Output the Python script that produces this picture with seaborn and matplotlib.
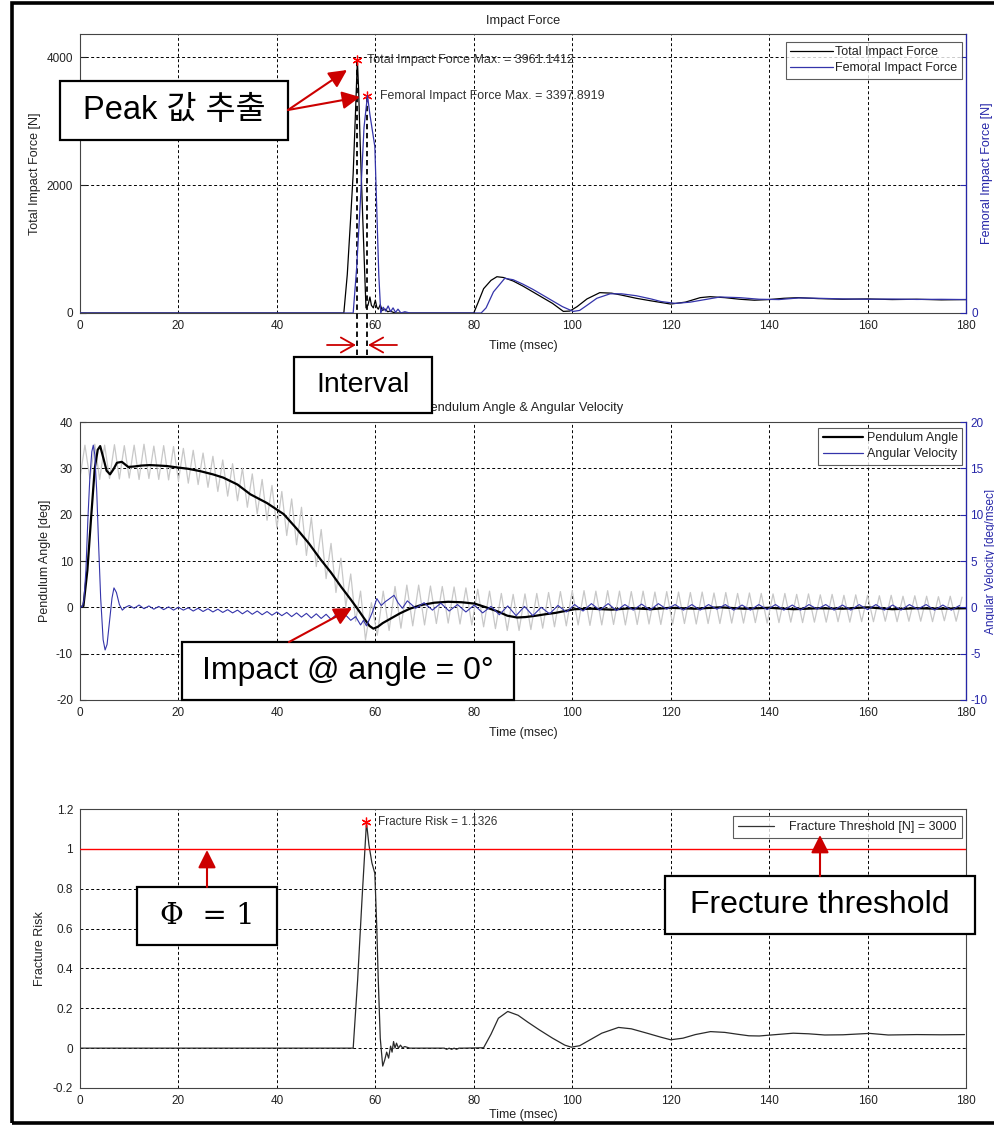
import numpy as np
import matplotlib
matplotlib.use('Agg')
import matplotlib.pyplot as plt
import seaborn as sns
from matplotlib.patches import Rectangle, FancyArrowPatch
from matplotlib.lines import Line2D

# ---------------- data ----------------
time_ticks = [0, 20, 40, 60, 80, 100, 120, 140, 160, 180]

# Top panel: impact forces [N]
total_t = [0, 53.6, 54.3, 55.0, 55.5, 56.0, 56.35, 56.6, 56.9, 57.3, 57.6, 57.9, 58.1, 58.5,
           58.9, 59.2, 59.6, 60.0, 60.3, 60.6, 61.0, 61.4, 62.0, 62.5, 63.0, 64, 65,
           80.0, 80.8, 82, 83.5, 84.7, 86, 88, 90, 92, 94, 96, 98.2, 99.5, 101, 103, 105.6,
           108, 110, 113, 116, 120, 123, 126, 128, 131, 134, 137, 140, 143, 146, 150, 155,
           160, 165, 170, 175, 180]
total_f = [0, 0, 600, 1500, 2180, 3200, 3961.1412, 3500, 2700, 1800, 1140, 500, 80, 120,
           250, 120, 80, 200, 90, 60, 130, 40, 60, 20, 30, 0, 0,
           0, 150, 380, 510, 567, 555, 500, 420, 330, 240, 150, 25, 30, 100, 220, 318,
           310, 280, 230, 190, 140, 170, 240, 255, 240, 215, 200, 210, 230, 240, 225, 215,
           220, 210, 215, 205, 210]

fem_t = [0, 55.5, 56.2, 57.0, 57.7, 58.4, 58.9, 59.4, 59.9, 60.3, 60.7, 61.1, 61.6, 62.1,
         62.6, 63.1, 63.6, 64.1, 64.6, 65.2, 66, 67, 80.5, 81.5, 82.5, 84, 86.3, 88, 90, 92,
         94, 96, 98, 100.2, 101.5, 103, 105, 107.7, 110, 113, 116, 118, 121, 124, 127, 130,
         134, 138, 142, 146, 150, 155, 160, 165, 170, 175, 180]
fem_f = [0, 0, 700, 1800, 2900, 3397.8919, 3100, 2850, 2600, 1600, 600, 0, 90, 30,
         110, 20, 80, 10, 60, 0, 20, 0, 0, 0, 80, 330, 542, 520, 450, 370,
         280, 190, 100, 25, 40, 120, 230, 300, 300, 270, 220, 180, 150, 170, 210, 250,
         240, 215, 210, 235, 230, 220, 215, 218, 212, 214, 210]

peak_t = [56.35, 58.4]
peak_f = [3961.1412, 3397.8919]

# Middle panel: pendulum angle [deg]
ang_t = [0, 0.7, 1.5, 2.3, 3.0, 3.6, 4.1, 4.8, 5.4, 6.1, 6.8, 7.5, 8.5, 9.8, 11, 12.5, 14.2,
         16, 17.6, 19.7, 22, 24.4, 27, 29.1, 32, 34.6, 38, 41.4, 44, 46.5, 48.9, 51, 53, 55,
         56.5, 57.8, 58.8, 59.6, 60.5, 61.5, 63, 65, 67, 69.3, 72, 74.8, 77.5, 80.2, 82.5,
         84.9, 86.8, 88.8, 90.5, 92.7, 94.5, 96.6, 98.5, 100.5, 104, 108, 112, 116, 120,
         125, 130, 135, 140, 145, 150, 155, 160, 165, 170, 175, 180]
ang_v = [0, 0.3, 8, 20, 30, 34.0, 34.8, 32, 29.5, 28.7, 29.8, 31.2, 31.4, 30.3, 30.4, 30.6,
         30.7, 30.6, 30.5, 30.2, 29.9, 29.4, 28.7, 28.0, 26.5, 24.4, 22.5, 20.1, 17, 13.8,
         10.3, 7.5, 4.5, 1.7, -0.5, -2.5, -4.0, -4.6, -4.2, -3.4, -2.5, -1.3, -0.3, 0.5,
         1.0, 1.2, 1.1, 0.8, 0.0, -0.9, -1.8, -2.2, -2.1, -1.8, -1.5, -1.2, -0.8, -0.4,
         -0.3, -0.5, -0.2, -0.4, -0.1, -0.3, 0.0, -0.3, -0.1, -0.4, -0.2, -0.3, 0.0, -0.4,
         -0.2, -0.3, -0.2]

# raw (unfiltered) angle signal, sampled turning points
raw_pre_v = [28.0, 35.0, 27.8, 35.2, 27.6, 35.0, 27.8, 35.1, 27.7, 34.9, 27.9, 35.0, 27.6,
             35.2, 27.8, 34.8, 27.6, 34.9, 27.5, 34.7, 27.3, 34.3, 26.8, 33.9, 26.5, 33.3,
             25.9, 32.6, 25.0, 31.8, 24.0, 31.0, 23.0, 30.0, 21.6, 28.8, 20.2, 27.6, 18.8,
             26.3, 17.2, 25.0, 15.5, 23.4, 13.5, 21.6, 11.2, 19.4, 8.8, 16.8, 6.2, 13.8,
             3.2, 10.6, 0.2, 7.2, -3.0, 3.5]
raw_post_v = [-7.0, 1.0, -6.0, 3.5, -5.0, 4.5, -4.5, 4.8, -4.0, 4.8, -3.8, 4.6, -3.5, 4.5,
              -3.4, 4.4, -3.6, 4.2, -3.8, 3.9, -4.2, 3.5, -4.6, 3.0, -5.0, 2.8, -5.0, 2.9,
              -4.8, 3.0, -4.5, 3.2, -4.2, 3.4, -4.0, 3.6, -3.8, 3.6, -3.9, 3.5, -3.8, 3.6,
              -3.7, 3.5, -3.8, 3.4, -3.7, 3.5, -3.6, 3.3, -3.7, 3.4, -3.6, 3.3, -3.5, 3.2,
              -3.6, 3.3, -3.5, 3.1, -3.5, 3.2, -3.4, 3.0, -3.4, 3.1, -3.3, 3.0, -3.4, 2.9,
              -3.3, 3.0, -3.2, 2.8, -3.3, 2.9, -3.2, 2.7, -3.2, 2.8, -3.1, 2.6, -3.2, 2.7,
              -3.1, 2.6, -3.1, 2.5, -3.0, 2.6, -3.1, 2.4, -3.0, 2.5, -3.0, 2.4, -3.1, 2.3,
              -2.9, 2.4, -3.0, 2.2]

# angular velocity [deg/msec]
vel_a_t = [0, 0.5, 0.8, 1.2, 1.6, 2.0, 2.4, 2.7, 3.0, 3.4, 3.8, 4.2, 4.7, 5.1, 5.5, 6.0,
           6.5, 6.9, 7.4, 8.0, 8.6, 9.2]
vel_a_v = [0, 0.1, 0.8, 4.0, 9.5, 14.0, 16.8, 17.5, 16.5, 12.5, 6.5, 1.0, -3.5, -4.6, -4.0,
           -1.5, 1.0, 2.1, 1.6, 0.3, -0.3, 0.0]
vel_b_v = [0.2, -0.1, 0.25, -0.15, 0.15, -0.2, 0.1, -0.25, 0.05, -0.3, 0.0, -0.3, -0.05,
           -0.4, -0.1, -0.45, -0.15, -0.5, -0.2, -0.55, -0.25, -0.6, -0.3, -0.7, -0.35,
           -0.75, -0.4, -0.8, -0.45, -0.85, -0.5, -0.9, -0.55, -1.0, -0.6, -1.05, -0.65,
           -1.15, -0.7, -1.2, -0.75, -1.3, -0.8, -1.35, -0.85, -1.4]
vel_c_t = [56, 57, 57.6, 58.2, 58.8, 59.5, 60.3, 61.2, 62.0, 62.8, 63.8, 64.6, 65.5]
vel_c_v = [-1.0, -1.9, -1.4, -2.0, -1.3, -0.4, 0.95, 0.2, 0.6, 0.9, 1.3, 0.5, -0.1]
vel_d_v = [0.7, -0.1, 0.5, -0.3, 0.45, -0.4, 0.3, -0.5, 0.25, -0.6, 0.1, -0.8, 0.15, -0.9,
           0.1, -0.9, 0.0, -0.7, 0.2, -0.5, 0.3, -0.4, 0.4, -0.3, 0.4, -0.35, 0.3, -0.3,
           0.35, -0.3, 0.4, -0.2, 0.3, -0.3, 0.3, -0.3, 0.3, -0.2, 0.3, -0.3, 0.25, -0.3,
           0.3, -0.25, 0.3, -0.3, 0.25, -0.3, 0.3, -0.2, 0.3, -0.3, 0.25, -0.3, 0.3, -0.25,
           0.3, -0.3, 0.25, -0.3, 0.3, -0.2, 0.3, -0.3, 0.25, -0.3, 0.2]

# Bottom panel: fracture risk
fr_t = [0, 55.5, 56.4, 57.3, 58.2, 58.7, 59.3, 59.9, 60.3, 60.6, 61.0, 61.5, 61.9, 62.3,
        62.7, 63.1, 63.4, 63.7, 64.0, 64.3, 64.7, 65.1, 65.5, 66.0, 67.0, 74.0, 74.5, 75.0,
        75.5, 76.0, 76.5, 77.0, 78.0, 82.0, 83.5, 85.0, 86.9, 89.0, 91.0, 93.3, 96.0, 98.5,
        99.8, 101.5, 103.5, 106.0, 109.4, 112.0, 115.2, 118.0, 120.0, 122.5, 125.0, 128.1,
        131.0, 133.5, 135.9, 138.0, 140.4, 144.9, 148.0, 151.3, 155.0, 160.4, 164.2, 170.0,
        175.0, 179.7]
fr_v = [0, 0, 0.34, 0.75, 1.1326, 1.02, 0.93, 0.877, 0.6, 0.34, 0.05, -0.09, -0.06, -0.02,
        -0.05, 0.01, -0.02, 0.033, 0.0, 0.025, 0.0, 0.015, 0.002, 0.008, 0.0, 0.0, -0.006,
        0.0, -0.006, 0.0, -0.006, 0.0, 0.0, 0.002, 0.07, 0.15, 0.184, 0.165, 0.13, 0.092,
        0.05, 0.015, 0.005, 0.012, 0.04, 0.075, 0.104, 0.097, 0.075, 0.055, 0.042, 0.05,
        0.068, 0.083, 0.079, 0.07, 0.062, 0.061, 0.066, 0.075, 0.072, 0.066, 0.067, 0.074,
        0.066, 0.068, 0.067, 0.068]
fr_peak_t, fr_peak_v = 58.2, 1.1326
threshold = 1.0

# ---------------- sample times for the sampled signals ----------------
raw_t = list(np.arange(len(raw_pre_v)) * 1.0) + list(58.0 + 1.2 * np.arange(len(raw_post_v)))
raw_v = raw_pre_v + raw_post_v
vel_b_t = list(10.0 + np.arange(len(vel_b_v)))
vel_d_t = list(66.5 + 1.7 * np.arange(len(vel_d_v)))
vel_t = vel_a_t + vel_b_t + vel_c_t + vel_d_t
vel_v = vel_a_v + vel_b_v + vel_c_v + vel_d_v
keep = [i for i, t in enumerate(vel_t) if t <= 180]
vel_t = [vel_t[i] for i in keep]
vel_v = [vel_v[i] for i in keep]
keep = [i for i, t in enumerate(raw_t) if t <= 180]
raw_t = [raw_t[i] for i in keep]
raw_v = [raw_v[i] for i in keep]

# ---------------- figure ----------------
W, H = 995, 1125
sns.set_theme(style='white')
plt.rcParams['font.family'] = ['Liberation Sans', 'Noto Sans CJK KR', 'DejaVu Sans']
plt.rcParams['axes.unicode_minus'] = False

TXT = '#222222'
BLUE = '#3434aa'
AXBLUE = '#2626a8'
RED = '#cc0000'

fig = plt.figure(figsize=(W / 100, H / 100), dpi=100)
fig.patch.set_facecolor('white')


def ax_rect(left, top, right, bottom):
    return [left / W, 1 - bottom / H, (right - left) / W, (bottom - top) / H]


ax1 = fig.add_axes(ax_rect(80, 34, 966, 313))
ax2 = fig.add_axes(ax_rect(80, 422, 966, 700))
ax3 = fig.add_axes(ax_rect(80, 809, 966, 1088))


def style(ax, ylim, yticks, ylabels=None):
    ax.set_xlim(0, 180)
    ax.set_ylim(*ylim)
    ax.set_xticks(time_ticks)
    ax.set_yticks(yticks)
    if ylabels is not None:
        ax.set_yticklabels(ylabels)
    ax.grid(True, color='black', linestyle=(0, (3, 2.5)), linewidth=0.7)
    ax.tick_params(direction='in', length=4, width=0.8, labelsize=8.5,
                   colors=TXT, pad=5)
    for s in ax.spines.values():
        s.set_color('#444444')
        s.set_linewidth(0.8)
    ax.set_facecolor('white')


def xlabel(ax, ypix_below):
    ax.set_xlabel('Time (msec)', fontsize=9, color=TXT)
    h = ax.get_position().height * H
    ax.xaxis.set_label_coords(0.5, -ypix_below / h)


def ylabel(ax, text, xpix, color=TXT, right=False, fs=9):
    if right:
        ax.set_ylabel(text, fontsize=fs, color=color, rotation=90)
        ax.yaxis.set_label_position('right')
    else:
        ax.set_ylabel(text, fontsize=fs, color=color)
    ax.yaxis.set_label_coords((xpix - 80) / 886, 0.5)


def twin_style(axr, pad=4):
    axr.tick_params(direction='in', length=4, width=0.8, labelsize=8.5, colors=AXBLUE, pad=pad)
    for k in ['left', 'top', 'bottom']:
        axr.spines[k].set_visible(False)
    axr.spines['right'].set_color(AXBLUE)
    axr.spines['right'].set_linewidth(0.9)
    axr.grid(False)
    axr.set_xlabel('')


def legend(ax, handles, labels, top_pix, axes_top, axes_h, **kw):
    leg = ax.legend(handles, labels, loc='upper right',
                    bbox_to_anchor=((962 - 80) / 886, 1 - (top_pix - axes_top) / axes_h),
                    borderaxespad=0, frameon=True, fancybox=False, fontsize=9, **kw)
    leg.get_frame().set_edgecolor('#333333')
    leg.get_frame().set_linewidth(0.8)
    for t in leg.get_texts():
        t.set_color(TXT)
    return leg


# ---- top ----
style(ax1, (0, 4360), [0, 2000, 4000])
sns.lineplot(x=total_t, y=total_f, ax=ax1, color='black', linewidth=0.9, estimator=None)
ax1r = ax1.twinx()
ax1r.set_ylim(0, 4360)
ax1r.set_yticks([0, 2000, 4000])
ax1r.set_yticklabels(['0', '', ''])
sns.lineplot(x=fem_t, y=fem_f, ax=ax1r, color=BLUE, linewidth=0.9, estimator=None)
twin_style(ax1r)
ax1.set_title('Impact Force', fontsize=9.2, color=TXT, pad=7)
xlabel(ax1, 27)
ylabel(ax1, 'Total Impact Force [N]', 41)
ylabel(ax1r, 'Femoral Impact Force [N]', 981, color=AXBLUE, right=True)

ax1.vlines(peak_t, [-656, -656], peak_f, colors='black', linestyles=(0, (3, 2)),
           linewidth=1.3, clip_on=False, zorder=6)
ax1.plot(peak_t, peak_f, linestyle='none', marker=(6, 2, 0), markersize=7,
         markeredgecolor='red', markeredgewidth=0.9, zorder=7)
ax1.annotate('Total Impact Force Max. = 3961.1412', (peak_t[0], peak_f[0]),
             xytext=(7, 0), textcoords='offset points', va='center', ha='left',
             fontsize=9, color='#333333')
ax1.annotate('Femoral Impact Force Max. = 3397.8919', (peak_t[1], peak_f[1]),
             xytext=(9, 0), textcoords='offset points', va='center', ha='left',
             fontsize=8.9, color='#333333')
legend(ax1r, [Line2D([], [], color='black', lw=0.9), Line2D([], [], color=BLUE, lw=0.9)],
       ['Total Impact Force', 'Femoral Impact Force'], 42, 34, 279,
       handlelength=3.4, handletextpad=0.2, borderpad=0.35, labelspacing=0.3)

# ---- middle ----
style(ax2, (-20, 40), [-20, -10, 0, 10, 20, 30, 40])
sns.lineplot(x=raw_t, y=raw_v, ax=ax2, color='#c8c8c8', linewidth=0.9, estimator=None)
sns.lineplot(x=ang_t, y=ang_v, ax=ax2, color='black', linewidth=1.6, estimator=None)
ax2r = ax2.twinx()
ax2r.set_ylim(-10, 20)
ax2r.set_yticks([-10, -5, 0, 5, 10, 15, 20])
sns.lineplot(x=vel_t, y=vel_v, ax=ax2r, color=BLUE, linewidth=0.8, estimator=None)
twin_style(ax2r, pad=3)
ax2.set_title('Pendulum Angle & Angular Velocity', fontsize=9.3, color=TXT, pad=8)
xlabel(ax2, 27)
ylabel(ax2, 'Pendulum Angle [deg]', 51)
ylabel(ax2r, 'Angular Velocity [deg/msec]', 985, color=AXBLUE, right=True, fs=8.5)
legend(ax2r, [Line2D([], [], color='black', lw=1.6), Line2D([], [], color=BLUE, lw=0.9)],
       ['Pendulum Angle', 'Angular Velocity'], 428, 422, 278,
       handlelength=3.2, handletextpad=0.3, borderpad=0.35, labelspacing=0.3)

# ---- bottom ----
style(ax3, (-0.2, 1.2), [-0.2, 0, 0.2, 0.4, 0.6, 0.8, 1.0, 1.2],
      ['-0.2', '0', '0.2', '0.4', '0.6', '0.8', '1', '1.2'])
sns.lineplot(x=fr_t, y=fr_v, ax=ax3, color='#2a2a2a', linewidth=0.9, estimator=None)
ax3.axhline(threshold, color='red', linewidth=1.0, zorder=4)
ax3.plot([fr_peak_t], [fr_peak_v], linestyle='none', marker=(6, 2, 0), markersize=7,
         markeredgecolor='red', markeredgewidth=0.9, zorder=7)
ax3.annotate('Fracture Risk = 1.1326', (fr_peak_t, fr_peak_v), xytext=(8, 0),
             textcoords='offset points', va='center', ha='left', fontsize=8.5, color='#333333')
xlabel(ax3, 21)
ylabel(ax3, 'Fracture Risk', 46)
legend(ax3, [Line2D([], [], color='#333333', lw=0.9)], ['Fracture Threshold [N] = 3000'],
       816, 809, 279, handlelength=2.9, handletextpad=1.2, borderpad=0.4)


# ---------------- overlay annotations (figure pixel coords) ----------------
def fxy(x, y):
    return (x / W, 1 - y / H)


def arrow(p0, p1, style, ms, lw=1.5):
    a = FancyArrowPatch(fxy(*p0), fxy(*p1), transform=fig.transFigure, arrowstyle=style,
                        mutation_scale=ms, color=RED, lw=lw, shrinkA=0, shrinkB=0, zorder=10)
    fig.add_artist(a)


def box(x0, y0, x1, y1, text, fs, family):
    r = Rectangle((x0 / W, 1 - y1 / H), (x1 - x0) / W, (y1 - y0) / H,
                  transform=fig.transFigure, facecolor='white', edgecolor='black',
                  lw=1.6, zorder=8)
    fig.add_artist(r)
    fig.text((x0 + x1) / 2 / W, 1 - (y0 + y1) / 2 / H, text, ha='center', va='center',
             fontsize=fs, family=family, color='black', zorder=9)


big = ['Liberation Sans', 'Noto Sans CJK KR', 'DejaVu Sans']
filled = '-|>,head_length=0.9,head_width=0.45'
box(60, 81, 288, 140, 'Peak 값 추출', 23.5, big)
arrow((288, 110), (347, 70), filled, 12)
arrow((288, 110), (360, 97), filled, 12)

arrow((327, 345), (356, 345), '->,head_length=0.8,head_width=0.45', 12, lw=1.3)
arrow((397, 345), (368, 345), '->,head_length=0.8,head_width=0.45', 12, lw=1.3)
box(294, 357, 432, 413, 'Interval', 20.5, big)

box(182, 642, 514, 700, 'Impact @ angle = 0°', 23, big)
arrow((289, 642), (352, 608), filled, 12)

box(137, 887, 277, 945, 'Φ  = 1', 21, ['DejaVu Serif'])
arrow((207, 887), (207, 850), filled, 12)

box(665, 876, 975, 934, 'Frecture threshold', 23, big)
arrow((820, 876), (820, 835), filled, 12)

# outer frame
fig.add_artist(Rectangle((12 / W, 1 - 1123 / H), (1010 - 12) / W, (1123 - 3) / H,
                         transform=fig.transFigure, fill=False, edgecolor='black',
                         lw=2.6, zorder=20, clip_on=False))

fig.savefig('out.png', dpi=100, facecolor='white')
